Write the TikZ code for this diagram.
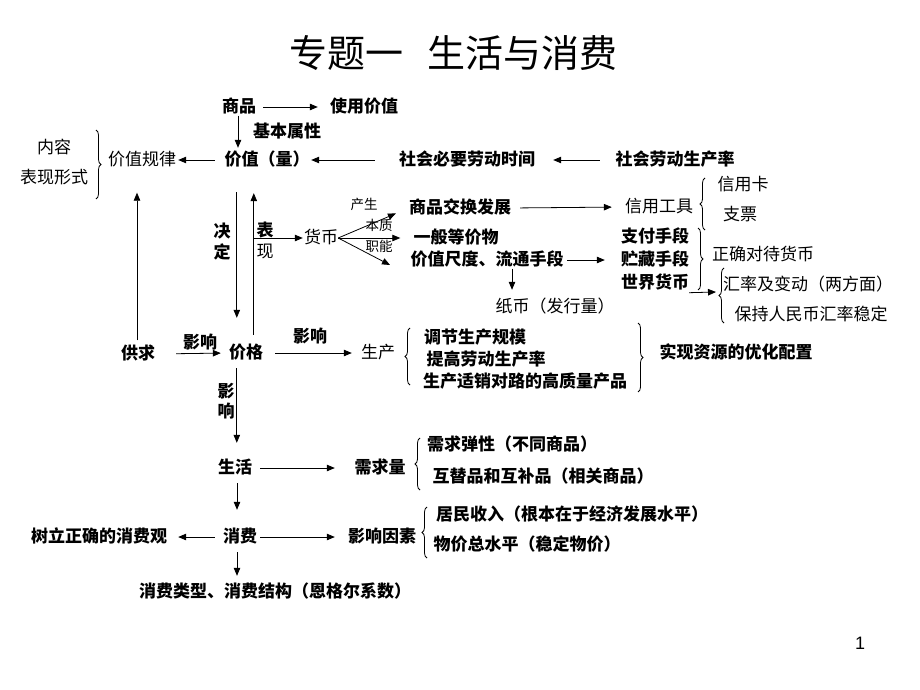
\documentclass[tikz,border=0pt]{standalone}
\usepackage{fontspec}
\usetikzlibrary{arrows.meta,decorations.pathreplacing}
\newfontfamily\cjk{Noto Sans CJK SC}
\newfontfamily\arialf{Liberation Sans}
\tikzset{
  lb/.style={inner sep=0pt,text height=14pt,text depth=3pt,font=\cjk\bfseries\fontsize{17}{17}\selectfont},
  lr/.style={inner sep=0pt,text height=14pt,text depth=3pt,font=\cjk\fontsize{17}{17}\selectfont},
  ls/.style={inner sep=0pt,text height=11pt,text depth=2pt,font=\cjk\fontsize{13.5}{13.5}\selectfont},
  arr/.style={line width=0.8pt,-{Triangle[length=8pt,width=6.5pt]}},
  brc/.style={line width=0.8pt,decorate,decoration={brace,amplitude=5pt}}
}
\begin{document}
\begin{tikzpicture}[x=1pt,y=-1pt]
\useasboundingbox[fill=white] (0,0) rectangle (920,690);
% title
\node[inner sep=0pt,anchor=west,font=\cjk\fontsize{38}{38}\selectfont] (title) at (289,53) {专题一\hspace{24pt}生活与消费};
% top area
\node[lb] (sp) at (239,107) {商品};
\node[lb] (syjz) at (364,107) {使用价值};
\node[lb] (jbsx) at (287,132) {基本属性};
\node[lb] (jz) at (267,160) {价值（量）};
\node[lr] (jzgl) at (142,160) {价值规律};
\node[lr] (nr) at (54,148) {内容};
\node[lr] (bxxs) at (54,178) {表现形式};
\node[lb] (shbyldsj) at (467,160) {社会必要劳动时间};
\node[lb] (shldscl) at (675,160) {社会劳动生产率};
\node[lb] (jd1) at (222,232) {决};
\node[lb] (jd2) at (222,253) {定};
\node[lb] (bx1) at (265,231) {表};
\node[lr] (bx2) at (265,252) {现};
\node[lr] (hb) at (321,238) {货币};
\node[ls] (cs) at (364,205) {产生};
\node[ls] (bz) at (379,226) {本质};
\node[ls] (zn) at (379,247) {职能};
\node[lb] (spjh) at (460,208) {商品交换发展};
\node[lb] (ybdjw) at (456,238) {一般等价物};
\node[lb] (jzcd) at (487,260) {价值尺度、流通手段};
\node[lr] (zb) at (555,307) {纸币（发行量）};
\node[lr] (xygj) at (659,207) {信用工具};
\node[lr] (xyk) at (743,185) {信用卡};
\node[lr] (zp) at (740,215) {支票};
\node[lb] (zfsd) at (655,237) {支付手段};
\node[lb] (zcsd) at (655,260) {贮藏手段};
\node[lb] (sjhb) at (655,283) {世界货币};
\node[lr] (zqdd) at (763,255) {正确对待货币};
\node[lr] (hl) at (808,285) {汇率及变动（两方面）};
\node[lr] (bc) at (811,315) {保持人民币汇率稳定};
% middle
\node[lb] (gq) at (138,354) {供求};
\node[lb] (yx1) at (200,343) {影响};
\node[lb] (jg) at (246,353) {价格};
\node[lb] (yx2) at (310,337) {影响};
\node[lr] (sc) at (378,353) {生产};
\node[lb] (tj) at (475,338) {调节生产规模};
\node[lb] (tg) at (486,360) {提高劳动生产率};
\node[lb] (scsx) at (525,382) {生产适销对路的高质量产品};
\node[lb] (sxzy) at (736,353) {实现资源的优化配置};
\node[lb] (yx3a) at (226,392) {影};
\node[lb] (yx3b) at (226,412) {响};
% bottom
\node[lb] (sh) at (235,468) {生活};
\node[lb] (xql) at (380,468) {需求量};
\node[lb] (xqtx) at (512,445) {需求弹性（不同商品）};
\node[lb] (hth) at (543,477) {互替品和互补品（相关商品）};
\node[lb] (xf) at (240,537) {消费};
\node[lb] (sl) at (99,537) {树立正确的消费观};
\node[lb] (yxys) at (382,537) {影响因素};
\node[lb] (jm) at (572,515) {居民收入（根本在于经济发展水平）};
\node[lb] (wj) at (527,545) {物价总水平（稳定物价）};
\node[lb] (xflx) at (275,592) {消费类型、消费结构（恩格尔系数）};
\node[inner sep=0pt,font=\arialf\fontsize{18}{18}\selectfont] (pn) at (860,643) {1};
% coordinates for free ends
\coordinate (bxp) at (254,238);
\coordinate (fanlow) at (390,265);
\coordinate (hlbr) at (716,292);
% arrows
\draw[arr,shorten <=7pt,shorten >=12pt] (sp.east) -- (syjz.west);
\draw[arr,shorten >=3.5pt] ([xshift=-1pt]sp.south) -- ([xshift=-1pt]sp.south |- jz.north);
\draw[arr,shorten <=9.5pt,shorten >=2pt] (jz.west) -- (jzgl.east);
\draw[arr,shorten <=24pt,shorten >=1.5pt] (shbyldsj.west) -- (jz.east);
\draw[arr,shorten <=15.5pt,shorten >=18pt] (shldscl.west) -- (shbyldsj.east);
\draw[arr,shorten <=5pt,shorten >=24pt] ([xshift=-1pt]gq.north) -- ([xshift=-1pt]gq.north |- jzgl.south);
\draw[arr,shorten <=23.5pt,shorten >=26.5pt] ([xshift=12.5pt]jz.south west) -- ([xshift=12.5pt]jz.south west |- jg.north);
\draw[arr,shorten <=9.5pt,shorten >=24.5pt] ([xshift=29.5pt]jz.south west |- jg.north) -- ([xshift=29.5pt]jz.south west);
\draw[arr,shorten >=1pt] (bxp) -- (hb.west);
\draw[arr,shorten >=14pt] (hb.east) -- (spjh.west);
\draw[arr,shorten >=13pt] (hb.east) -- (ybdjw.west);
\draw[arr] (hb.east) -- (fanlow);
\draw[arr,shorten <=9pt,shorten >=13pt] (spjh.east) -- (xygj.west);
\draw[arr,shorten <=3.5pt,shorten >=16pt] (jzcd.east) -- (zcsd.west);
\draw[arr,shorten >=8.5pt] ([xshift=25pt]jzcd.south) -- ([xshift=25pt]jzcd.south |- zb.north);
\draw[arr] ([yshift=-1pt]sjhb.south east) -- (hlbr);
\draw[arr,shorten <=21pt,shorten >=8pt] (gq.east) -- (jg.west);
\draw[arr,shorten <=12pt,shorten >=9pt] (jg.east) -- (sc.west);
\draw[arr,shorten <=6.5pt,shorten >=16.5pt] ([xshift=8pt]jg.south west) -- ([xshift=8pt]jg.south west |- sh.north);
\draw[arr,shorten <=8pt,shorten >=19.5pt] (sh.east) -- (xql.west);
\draw[arr,shorten <=6.5pt,shorten >=18.5pt] ([xshift=2pt]sh.south) -- ([xshift=2pt]sh.south |- xf.north);
\draw[arr,shorten <=8pt,shorten >=11pt] (xf.west) -- (sl.east);
\draw[arr,shorten <=3pt,shorten >=13pt] (xf.east) -- (yxys.west);
\draw[arr,shorten <=6.5pt,shorten >=7.5pt] ([xshift=-3pt]xf.south) -- ([xshift=-3pt]xf.south |- xflx.north);
% braces
\draw[brc] (96,130) -- (96,199);
\draw[brc] (705,230) -- (705,178);
\draw[brc] (698,228) -- (698,290);
\draw[brc] (724,323) -- (724,268);
\draw[brc] (410,385) -- (410,328);
\draw[brc] (638,323) -- (638,392);
\draw[brc] (420,490) -- (420,438);
\draw[brc] (427,558) -- (427,507);
\end{tikzpicture}
\end{document}
